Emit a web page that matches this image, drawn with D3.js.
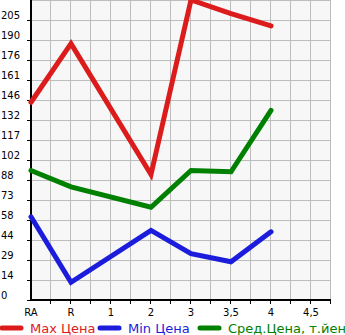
<!DOCTYPE html>
<html>
<head>
<meta charset="utf-8">
<script src="https://cdn.jsdelivr.net/npm/d3@7"></script>
<style>
  body { margin: 0; background: #fff; }
  svg { display: block; font-family: "DejaVu Sans", Verdana, sans-serif; }
</style>
</head>
<body>
<div id="chart"></div>
<script>
// categories along the bottom
var categories = ["RA", "R", "1", "2", "3", "3,5", "4", "4,5"];

// values per category (null = no data)
var maxPrice = [145, 188, null, 92, 220, 210, 201, null];
var minPrice = [61, 13, null, 51, 34, 28, 50, null];
var avgPrice = [95, 83, null, 68, 95, 94, 139, null];

var yTickLabels = ["0", "14", "29", "44", "58", "73", "88", "102", "117", "132", "146", "161", "176", "190", "205"];
var yMax = 220;

var legendNames = ["Max Цена", "Min Цена", "Сред.Цена, т.йен"];
var colors = ["#dc1c1c", "#1c1cdc", "#008000"];

var width = 345, height = 335;
var plot = { left: 31, right: 331, top: 0, bottom: 300 };

var svg = d3.select("#chart").append("svg")
  .attr("width", width)
  .attr("height", height);

var x = d3.scaleLinear()
  .domain([0, categories.length - 0.5])
  .range([plot.left, plot.right]);

var y = d3.scaleLinear()
  .domain([0, yMax])
  .range([plot.bottom, plot.top]);

var yStep = yMax / 15;

// plot background
svg.append("rect")
  .attr("x", plot.left)
  .attr("y", plot.top)
  .attr("width", plot.right - plot.left)
  .attr("height", plot.bottom - plot.top)
  .attr("fill", "#f7f7f7");

// grid lines
var xGrid = d3.range(0, categories.length, 0.5).concat([categories.length - 0.5]);
svg.append("g").selectAll("line")
  .data(xGrid.slice(1))
  .enter().append("line")
  .attr("x1", function(d) { return Math.round(x(d)) - 0.5; })
  .attr("x2", function(d) { return Math.round(x(d)) - 0.5; })
  .attr("y1", plot.top)
  .attr("y2", plot.bottom)
  .attr("stroke", "#bdbdbd")
  .attr("stroke-width", 1);

var yGrid = d3.range(1, 16).map(function(i) { return i * yStep; });
svg.append("g").selectAll("line")
  .data(yGrid)
  .enter().append("line")
  .attr("x1", plot.left)
  .attr("x2", plot.right)
  .attr("y1", function(d) { return Math.round(y(d)) + 0.5; })
  .attr("y2", function(d) { return Math.round(y(d)) + 0.5; })
  .attr("stroke", "#bdbdbd")
  .attr("stroke-width", 1);

// y ticks + labels
var yTicks = yTickLabels.map(function(t, i) { return i * yStep; });
svg.append("g").selectAll("line")
  .data(yTicks)
  .enter().append("line")
  .attr("x1", plot.left - 4)
  .attr("x2", plot.left)
  .attr("y1", function(d) { return Math.round(y(d)) + 0.5; })
  .attr("y2", function(d) { return Math.round(y(d)) + 0.5; })
  .attr("stroke", "#000");

svg.append("g").selectAll("text")
  .data(yTickLabels)
  .enter().append("text")
  .attr("x", 1)
  .attr("y", function(d, i) { return y(yTicks[i]) - 1; })
  .attr("font-size", 10)
  .attr("fill", "#000")
  .text(function(d) { return d; });

// x ticks + labels
svg.append("g").selectAll("line")
  .data(xGrid.slice(1))
  .enter().append("line")
  .attr("x1", function(d) { return Math.round(x(d)) - 0.5; })
  .attr("x2", function(d) { return Math.round(x(d)) - 0.5; })
  .attr("y1", plot.bottom)
  .attr("y2", plot.bottom + 4)
  .attr("stroke", "#000");

svg.append("g").selectAll("text")
  .data(categories)
  .enter().append("text")
  .attr("x", function(d, i) { return x(i); })
  .attr("y", 316)
  .attr("text-anchor", "middle")
  .attr("font-size", 10)
  .attr("fill", "#000")
  .text(function(d) { return d; });

// axes lines
svg.append("line")
  .attr("x1", plot.left).attr("x2", plot.left)
  .attr("y1", plot.top).attr("y2", plot.bottom + 1)
  .attr("stroke", "#000").attr("stroke-width", 2);
svg.append("line")
  .attr("x1", plot.left - 1).attr("x2", plot.right)
  .attr("y1", plot.bottom).attr("y2", plot.bottom)
  .attr("stroke", "#000").attr("stroke-width", 2);

// data lines (skip missing categories)
var line = d3.line()
  .x(function(d) { return x(d.i); })
  .y(function(d) { return y(d.v); });

[maxPrice, minPrice, avgPrice].forEach(function(series, k) {
  var pts = series.map(function(v, i) { return { i: i, v: v }; })
    .filter(function(d) { return d.v !== null; });
  svg.append("path")
    .datum(pts)
    .attr("d", line)
    .attr("fill", "none")
    .attr("stroke", colors[k])
    .attr("stroke-width", 5)
    .attr("stroke-linejoin", "miter")
    .attr("stroke-linecap", "round");
});

// legend
var legendX = [0, 98, 198];
var legend = svg.append("g").selectAll("g")
  .data(legendNames)
  .enter().append("g");

legend.append("line")
  .attr("x1", function(d, i) { return legendX[i] + 2; })
  .attr("x2", function(d, i) { return legendX[i] + 21; })
  .attr("y1", 328)
  .attr("y2", 328)
  .attr("stroke", function(d, i) { return colors[i]; })
  .attr("stroke-width", 5)
  .attr("stroke-linecap", "round");

legend.append("text")
  .attr("x", function(d, i) { return legendX[i] + 30; })
  .attr("y", 333)
  .attr("font-size", 13)
  .attr("fill", function(d, i) { return colors[i]; })
  .text(function(d) { return d; });
</script>
</body>
</html>
